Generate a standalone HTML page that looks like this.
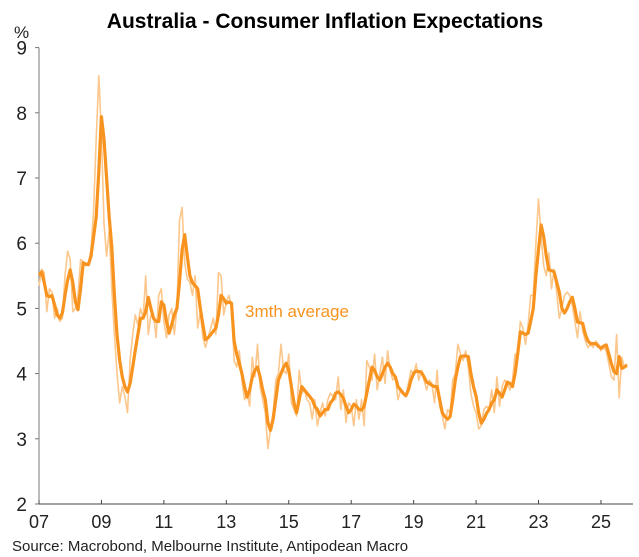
<!DOCTYPE html>
<html><head><meta charset="utf-8"><style>
body{margin:0;background:#fff;}
svg{display:block;font-family:"Liberation Sans",Arial,sans-serif;}
</style></head><body>
<svg id="chart" width="639" height="557" viewBox="0 0 639 557" xmlns="http://www.w3.org/2000/svg">
<text x="325" y="28" text-anchor="middle" font-size="21" font-weight="bold" fill="#000">Australia - Consumer Inflation Expectations</text>
<text x="14" y="38" font-size="17" fill="#222">%</text>
<g id="axes"></g>
<g id="series"></g>
<text x="245" y="317" font-size="17" fill="#f7931e">3mth average</text>
<text x="12" y="551" font-size="15" fill="#222">Source: Macrobond, Melbourne Institute, Antipodean Macro</text>
</svg>
<script>
// Monthly from Jan 2007
const rawMonthly = [
5.35,5.6,5.55,4.95,5.3,5.25,4.85,5.0,4.8,4.85,5.5,5.88,
5.75,4.95,5.0,5.2,5.75,5.72,5.65,5.7,5.9,6.5,7.6,8.57,
7.7,6.3,5.8,6.2,5.3,4.6,4.0,3.55,3.8,3.65,3.4,4.2,
4.6,4.9,4.75,5.0,4.85,5.5,4.6,4.9,4.9,4.55,5.2,5.3,
4.8,4.55,4.9,5.0,4.6,5.0,6.35,6.55,5.7,5.45,5.4,5.2,
5.5,4.7,4.95,4.55,4.4,4.55,4.7,4.85,4.6,5.55,5.5,4.9,
5.1,5.2,5.05,4.2,4.1,4.35,3.9,3.6,3.7,3.5,4.25,3.95,
4.45,3.8,3.6,3.4,2.85,3.15,3.4,3.9,4.0,4.45,4.05,4.0,
4.3,3.55,3.45,3.35,4.05,3.7,3.75,3.6,3.55,3.3,3.6,3.2,
3.4,3.55,3.35,3.6,3.7,3.65,3.6,3.95,3.45,3.75,3.25,3.55,
3.5,3.2,3.6,3.3,3.6,3.2,4.2,4.1,3.9,4.3,3.75,4.0,
4.25,3.85,4.35,4.05,3.9,3.95,3.6,3.75,3.7,3.65,3.85,4.05,
4.0,4.15,3.9,4.05,3.9,3.75,3.9,3.85,3.55,4.05,3.5,3.35,
3.15,3.45,3.4,3.9,4.0,4.45,4.3,4.2,4.35,4.1,3.7,3.5,
3.4,3.15,3.2,3.45,3.5,3.45,3.75,3.4,3.95,3.5,3.8,3.9,
3.85,3.75,3.9,4.3,4.25,4.8,4.7,4.45,4.75,5.2,5.2,6.0,
6.68,6.1,5.65,5.5,5.85,5.3,5.6,5.25,4.85,5.0,5.2,5.25,
5.2,5.05,4.8,4.55,4.95,4.65,4.5,4.4,4.45,4.4,4.5,4.45,
4.35,4.4,4.35,4.15,3.95,3.9,4.6,3.63,4.25,4.1,4.15];
const avgMonthly = [
5.51,5.56,5.4,5.2,5.18,5.2,5.05,4.9,4.85,4.93,5.2,5.43,
5.59,5.4,5.1,4.98,5.3,5.7,5.68,5.67,5.8,6.1,6.4,7.1,
7.94,7.6,7.0,6.4,5.94,5.2,4.6,4.2,3.95,3.8,3.72,3.85,
4.1,4.36,4.6,4.85,4.85,4.95,5.17,5.0,4.85,4.8,4.8,5.1,
5.05,4.8,4.62,4.75,4.9,5.0,5.4,5.9,6.13,5.8,5.5,5.39,
5.35,5.3,5.0,4.75,4.52,4.55,4.6,4.65,4.7,4.9,5.2,5.15,
5.08,5.1,5.08,4.5,4.3,4.16,4.0,3.8,3.64,3.75,3.95,4.05,
4.1,3.95,3.75,3.6,3.25,3.13,3.3,3.6,3.9,4.0,4.1,4.16,
4.05,3.8,3.55,3.4,3.6,3.8,3.75,3.7,3.65,3.6,3.5,3.45,
3.35,3.4,3.45,3.45,3.55,3.6,3.7,3.72,3.68,3.62,3.5,3.4,
3.45,3.53,3.5,3.45,3.44,3.5,3.7,3.9,4.1,4.05,3.95,3.9,
4.0,4.1,4.16,4.1,4.0,3.95,3.8,3.75,3.7,3.66,3.75,3.9,
4.0,4.04,4.03,4.02,3.95,3.87,3.85,3.82,3.8,3.8,3.6,3.4,
3.34,3.3,3.34,3.6,3.9,4.1,4.26,4.27,4.27,4.26,4.0,3.8,
3.65,3.4,3.24,3.3,3.39,3.45,3.55,3.6,3.75,3.7,3.64,3.75,
3.87,3.85,3.8,4.0,4.3,4.64,4.62,4.6,4.62,4.8,5.0,5.5,
5.9,6.28,6.1,5.8,5.59,5.58,5.56,5.4,5.25,5.0,4.93,5.0,
5.1,5.17,5.0,4.79,4.78,4.77,4.6,4.5,4.46,4.46,4.46,4.42,
4.39,4.42,4.44,4.3,4.15,4.03,4.0,4.26,4.08,4.1,4.13];
const yTicks = [2,3,4,5,6,7,8,9];
const xTickLabels = ["07","09","11","13","15","17","19","21","23","25"];
const xTickYears = [2007,2009,2011,2013,2015,2017,2019,2021,2023,2025];

const NS = "http://www.w3.org/2000/svg";
const X0 = 39, PX_PER_YEAR = 31.22, Y0 = 504, PX_PER_UNIT = 65.2;
function xYear(yr){ return X0 + (yr - 2007) * PX_PER_YEAR; }
function xMonth(i){ return xYear(2007 + i / 12); }
function yVal(v){ return Y0 - (v - 2) * PX_PER_UNIT; }
function mk(tag, attrs, parent){
  const e = document.createElementNS(NS, tag);
  for (const k in attrs) e.setAttribute(k, attrs[k]);
  parent.appendChild(e); return e;
}
const axes = document.getElementById("axes");
const yAxis = mk("line", {x1:X0, y1:yVal(9), x2:X0, y2:Y0, stroke:"#777", "stroke-width":1}, axes);


const xAxis = mk("line", {x1:X0, y1:Y0, x2:633, y2:Y0, stroke:"#444", "stroke-width":1}, axes);


yTicks.forEach(v => {
  const t = mk("line", {x1:X0-4, y1:yVal(v), x2:X0, y2:yVal(v), stroke:"#777"}, axes);
  
  
  const l = mk("text", {x:27, y:yVal(v)+7, "text-anchor":"end", "font-size":19, fill:"#222"}, axes);
  l.textContent = v;
  
  
});
xTickYears.forEach((yr, i) => {
  const x = xYear(yr);
  const t = mk("line", {x1:x, y1:Y0-4, x2:x, y2:Y0, stroke:"#444"}, axes);
  
  
  const l = mk("text", {x:x, y:528, "text-anchor":"middle", "font-size":18, fill:"#222"}, axes);
  l.textContent = xTickLabels[i];
  
  
});
const series = document.getElementById("series");
function pathFor(arr){ return arr.map((v,i)=>(i?"L":"M")+xMonth(i).toFixed(1)+","+yVal(v).toFixed(1)).join(""); }
const rawLine = mk("path", {d:pathFor(rawMonthly), fill:"none", stroke:"#fcc78c", "stroke-width":1.6, "stroke-linejoin":"round"}, series);


const avgLine = mk("path", {d:pathFor(avgMonthly), fill:"none", stroke:"#f7931e", "stroke-width":3.2, "stroke-linejoin":"round"}, series);


</script>
</body></html>
